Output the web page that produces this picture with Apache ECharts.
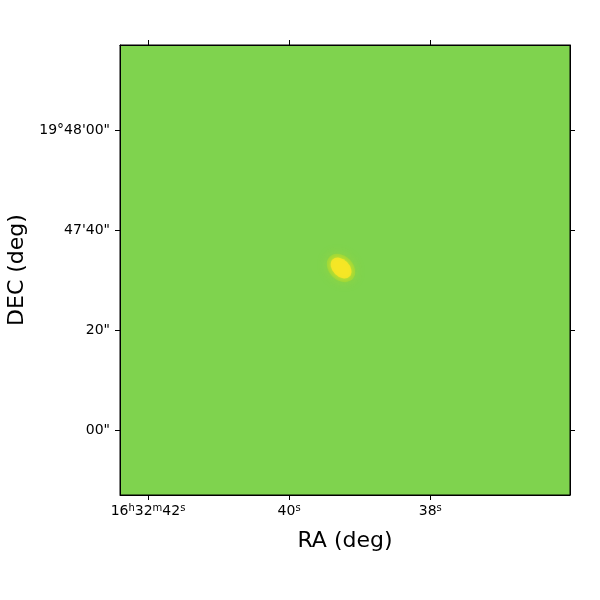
<!DOCTYPE html>
<html><head><meta charset="utf-8">
<script src="https://cdn.jsdelivr.net/npm/echarts@6/dist/echarts.min.js"></script>
<style>html,body{margin:0;padding:0;background:#fff}#c{width:600px;height:600px}</style>
</head><body><div id="c"></div>
<script>
// RA in seconds of time past 16h32m; DEC in arcsec past 19°47'00"
const raRange = [36.019, 42.397];
const decRange = [-13, 77];
const raTicks = [42, 40, 38];
const raTickLabels = {42: '16{s|h}32{s|m}42{s|s}', 40: '40{s|s}', 38: '38{s|s}'};
const decTicks = [0, 20, 40, 60];
const decTickLabels = {0: '00"', 20: '20"', 40: "47'40\"", 60: "19°48'00\""};
const sourceRA = [39.264];
const sourceDEC = [32.4];
const imageBackground = '#7fd34e';
const sourceColor = '#fde725';

const chart = echarts.init(document.getElementById('c'));
const font = 'DejaVu Sans';
const tickBase = {show: true, inside: false, length: 5, lineStyle: {color: '#000', width: 1}};
const commonX = {type: 'value', min: raRange[0], max: raRange[1], inverse: true, interval: 2,
  splitLine: {show: false}, axisLine: {show: true, onZero: false, lineStyle: {color: '#000', width: 1}}};
const commonY = {type: 'value', min: decRange[0], max: decRange[1], interval: 20,
  splitLine: {show: false}, axisLine: {show: true, onZero: false, lineStyle: {color: '#000', width: 1}}};
chart.setOption({
  animation: false,
  textStyle: {fontFamily: font},
  grid: {left: 120, top: 45, width: 450, height: 450, containLabel: false, outerBoundsMode: 'none',
    show: true, backgroundColor: imageBackground, borderColor: '#000', borderWidth: 1},
  xAxis: [
    Object.assign({}, commonX, {position: 'bottom', name: 'RA (deg)', nameLocation: 'middle', nameGap: 35,
      nameTextStyle: {fontSize: 22, color: '#000', fontFamily: font},
      axisTick: Object.assign({}, tickBase, {customValues: raTicks}),
      axisLabel: {show: true, color: '#000', fontSize: 14, fontFamily: font, margin: 8, customValues: raTicks,
        formatter: v => raTickLabels[Math.round(v)] || '',
        rich: {s: {fontSize: 10, verticalAlign: 'top', padding: [0,0,7,0], color: '#000', fontFamily: font}}}}),
    Object.assign({}, commonX, {position: 'top', axisTick: Object.assign({}, tickBase, {customValues: raTicks}), axisLabel: {show: false}})
  ],
  yAxis: [
    Object.assign({}, commonY, {position: 'left', name: 'DEC (deg)', nameLocation: 'middle', nameGap: 90, nameRotate: 90,
      nameTextStyle: {fontSize: 22, color: '#000', fontFamily: font},
      axisTick: Object.assign({}, tickBase, {customValues: decTicks}),
      axisLabel: {show: true, color: '#000', fontSize: 14, fontFamily: font, margin: 10, customValues: decTicks,
        formatter: v => decTickLabels[Math.round(v)] || ''}}),
    Object.assign({}, commonY, {position: 'right', axisTick: Object.assign({}, tickBase, {customValues: decTicks}), axisLabel: {show: false}})
  ],
  series: [
    {type: 'scatter', xAxisIndex: 0, yAxisIndex: 0, silent: true,
     data: sourceRA.map((r, i) => [r, sourceDEC[i]]),
     symbol: 'circle', symbolSize: [32, 24], symbolRotate: -45,
     itemStyle: {color: 'rgba(190,223,40,0.55)', shadowBlur: 10, shadowColor: 'rgba(180,220,45,0.9)'}},
    {type: 'scatter', xAxisIndex: 0, yAxisIndex: 0, silent: true,
     data: sourceRA.map((r, i) => [r, sourceDEC[i]]),
     symbol: 'circle', symbolSize: [24, 17], symbolRotate: -45,
     itemStyle: {color: sourceColor, shadowBlur: 4, shadowColor: 'rgba(240,229,33,0.9)'}}
  ]
});
</script></body></html>
